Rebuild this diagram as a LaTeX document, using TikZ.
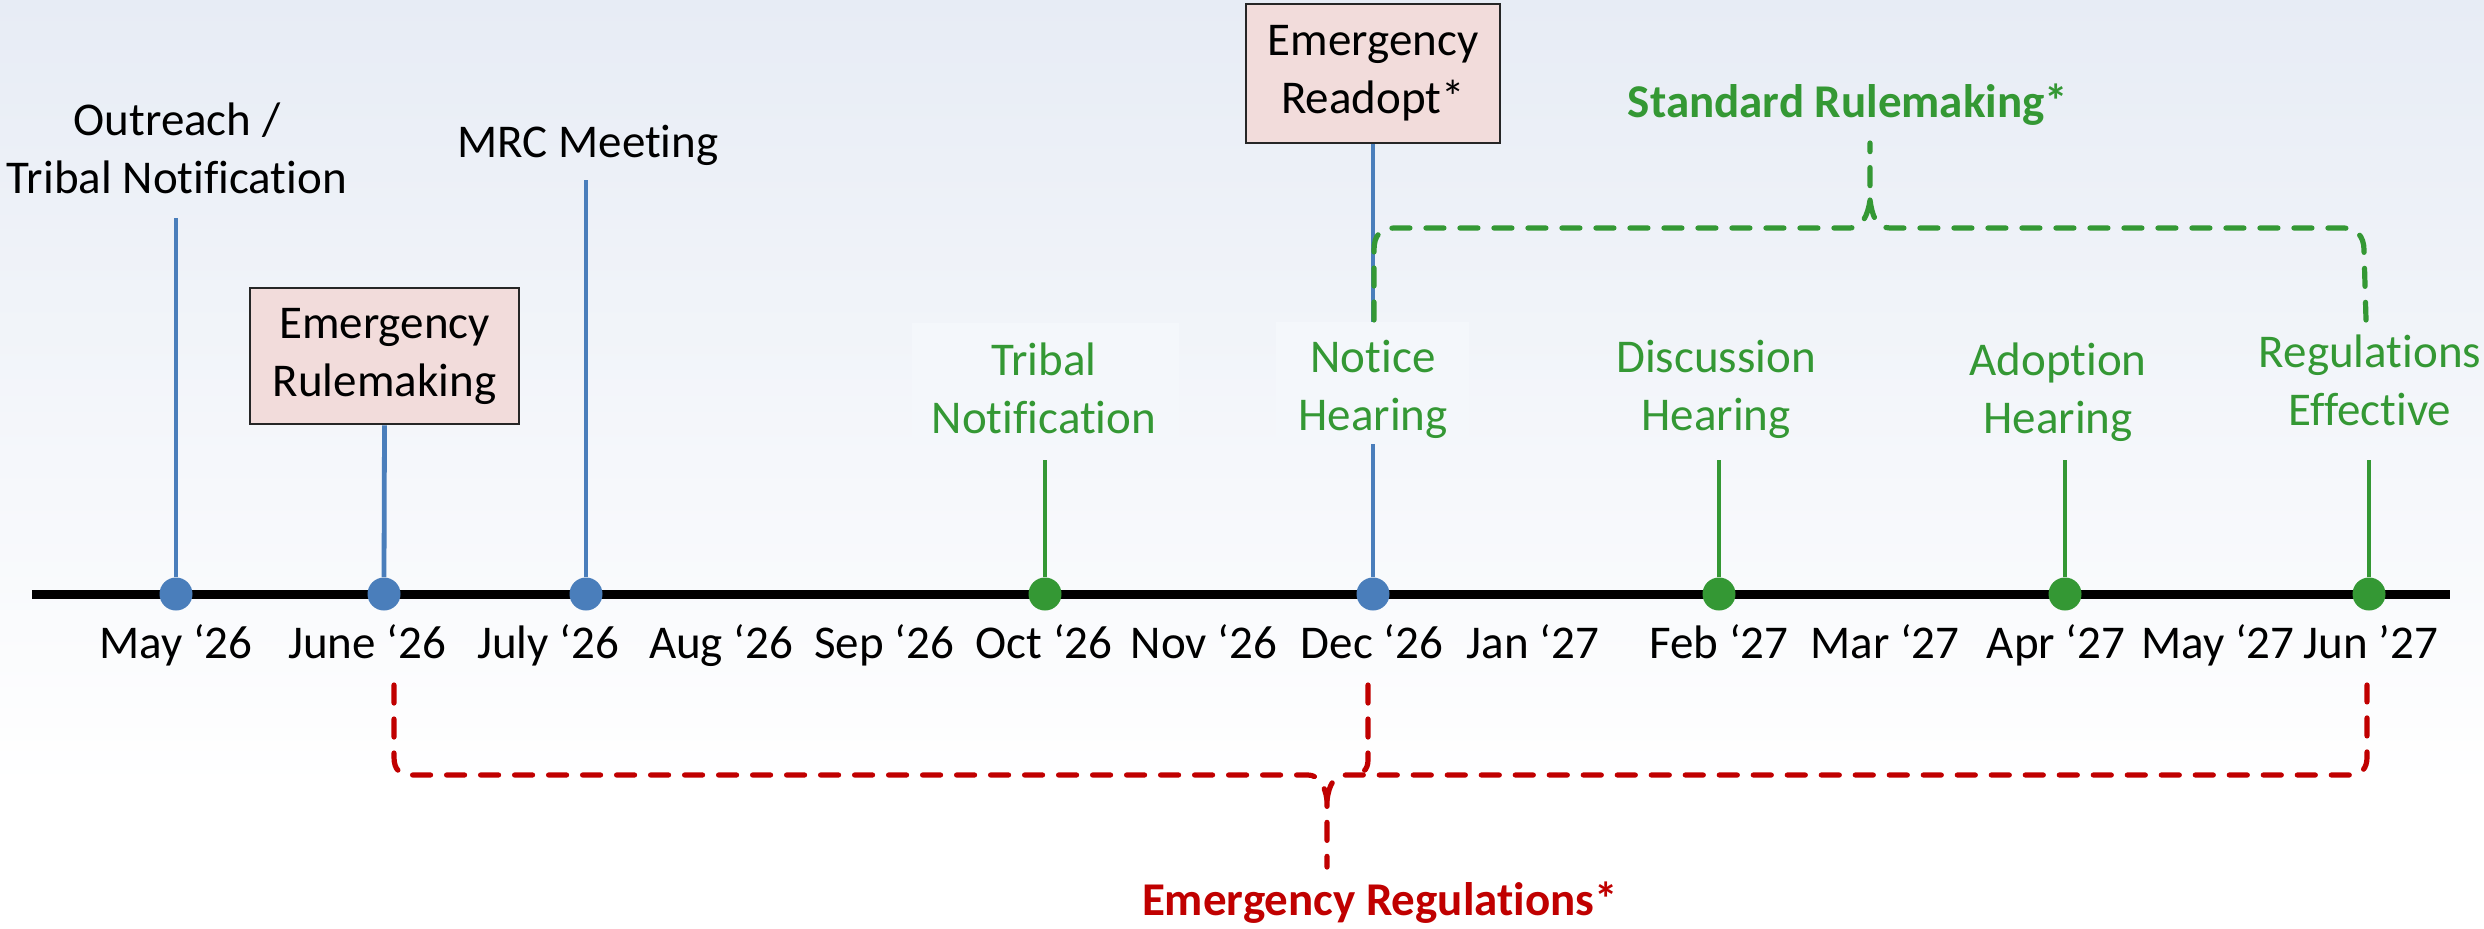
\documentclass[tikz,border=0pt]{standalone}
\usepackage{xcolor}
\usepackage{fontspec}
\setmainfont{Carlito}[Ligatures=NoCommon]
\usetikzlibrary{positioning}

\definecolor{evblue}{RGB}{74,126,187}
\definecolor{evgreen}{RGB}{52,152,52}
\definecolor{evred}{RGB}{192,0,0}
\definecolor{evpink}{RGB}{242,220,219}
\definecolor{bgtop}{RGB}{231,236,245}
\definecolor{labelbg}{RGB}{244,247,251}

\begin{document}
\begin{tikzpicture}[x=0.5pt, y=-0.5pt,
	lbl/.style = {font=\fontsize{23.5}{29}\selectfont, align=center, inner sep=0pt},
	bold/.style = {font=\fontsize{23.5}{29}\bfseries\selectfont},
	month/.style = {lbl, anchor=base},
	evbox/.style = {lbl, draw=black!85, line width=1.3pt, fill=evpink,
		minimum width=134.5pt, minimum height=68pt},
	dot/.style = {circle, inner sep=0pt, minimum size=16.5pt},
	stem/.style = {line width=2.4pt},
	brace/.style = {line width=2.6pt, dash pattern=on 9pt off 8pt, line cap=round}
	]
	% We will draw the background here
	\useasboundingbox (0,0) rectangle (2484,928);
	\shade[top color=bgtop, bottom color=white] (0,0) rectangle (2484,790);
	\fill[white] (0,790) rectangle (2484,928);
	
	% the time line with its months
	\draw[line width=4.5pt] (32,594) -- (2450,594);
	\foreach \m/\xx [count=\i] in {May ‘26/176, June ‘26/367, July ‘26/548,
		Aug ‘26/721, Sep ‘26/884, Oct ‘26/1044, Nov ‘26/1204, Dec ‘26/1372,
		Jan ‘27/1533, Feb ‘27/1719, Mar ‘27/1885, Apr ‘27/2056,
		May ‘27/2218, Jun ’27/2371}
		\node[month] (m\i) at (\xx,658) {\m};
	
	\foreach \n/\xx/\c in {dMay/176/evblue, dJune/384/evblue, dJuly/586/evblue,
		dOct/1045/evgreen, dDec/1373/evblue, dFeb/1719/evgreen,
		dApr/2065/evgreen, dJun/2369/evgreen}
		\node[dot, fill=\c] (\n) at (\xx,594) {};
	
	% events above the line
	\node[lbl, anchor=base] (outreach) at (177,193) {Outreach /\\Tribal Notification};
	\node[lbl, anchor=base] (mrc) at (588,157) {MRC Meeting};
	\node[evbox] (rulemaking) at (384.5,356) {Emergency\\Rulemaking};
	\node[evbox, minimum width=127pt, minimum height=69.5pt] (readopt) at (1373,73.5) {Emergency\\Readopt*};
	
	\coordinate (tMay) at (176,218);
	\coordinate (tJuly) at (586,180);
	\coordinate (tOct) at (1045,460);
	\coordinate (tFeb) at (1719,460);
	\coordinate (tApr) at (2065,460);
	\coordinate (tJun) at (2369,460);
	
	\draw[stem, evblue] (tMay) -- (dMay.north);
	\draw[stem, evblue] (rulemaking.south) -- (dJune.north);
	\draw[stem, evblue] (tJuly) -- (dJuly.north);
	\draw[stem, evblue] (readopt.south) -- (dDec.north);
	\draw[stem, evgreen] (tOct) -- (dOct.north);
	\draw[stem, evgreen] (tFeb) -- (dFeb.north);
	\draw[stem, evgreen] (tApr) -- (dApr.north);
	\draw[stem, evgreen] (tJun) -- (dJun.north);
	
	% standard rulemaking steps
	\fill[labelbg] (912,323) rectangle (1179,442);
	\fill[labelbg] (1276,322) rectangle (1469,444);
	\node[lbl, evgreen, anchor=base] (tribal) at (1044,433) {Tribal\\Notification};
	\node[lbl, evgreen, anchor=base] (notice) at (1373,430) {Notice\\Hearing};
	\node[lbl, evgreen, anchor=base] (discussion) at (1716,430) {Discussion\\Hearing};
	\node[lbl, evgreen, anchor=base] (adoption) at (2058,433) {Adoption\\Hearing};
	\node[lbl, evgreen, anchor=base] (effective) at (2370,425) {Regulations\\Effective};
	
	% the two braces
	\node[lbl, bold, evgreen, anchor=base] (standard) at (1848,117) {Standard Rulemaking*};
	\draw[brace, evgreen] (1374,320) -- (1374,250) .. controls (1374,236) and (1380,228) .. (1394,228)
		-- (1850,228) .. controls (1862,228) and (1868,215) .. (1870,200) -- (1870,143);
	\draw[brace, evgreen] (1870,200) .. controls (1872,215) and (1876,228) .. (1890,228)
		-- (2344,228) .. controls (2356,228) and (2364,236) .. (2364,250) -- (2366,320);
	
	\node[lbl, bold, evred, anchor=base] (emregs) at (1380,915) {Emergency Regulations*};
	\draw[brace, evred] (394,685) -- (394,757) .. controls (394,770) and (400,775) .. (412,775)
		-- (1308,775) .. controls (1318,775) and (1325,785) .. (1327,800) -- (1327,867);
	\draw[brace, evred] (1327,800) .. controls (1329,785) and (1334,775) .. (1346,775)
		-- (2349,775) .. controls (2362,775) and (2367,768) .. (2367,757) -- (2367,685);
	\draw[brace, evred] (1368,685) -- (1368,760) .. controls (1368,770) and (1362,775) .. (1352,775);
\end{tikzpicture}
\end{document}
